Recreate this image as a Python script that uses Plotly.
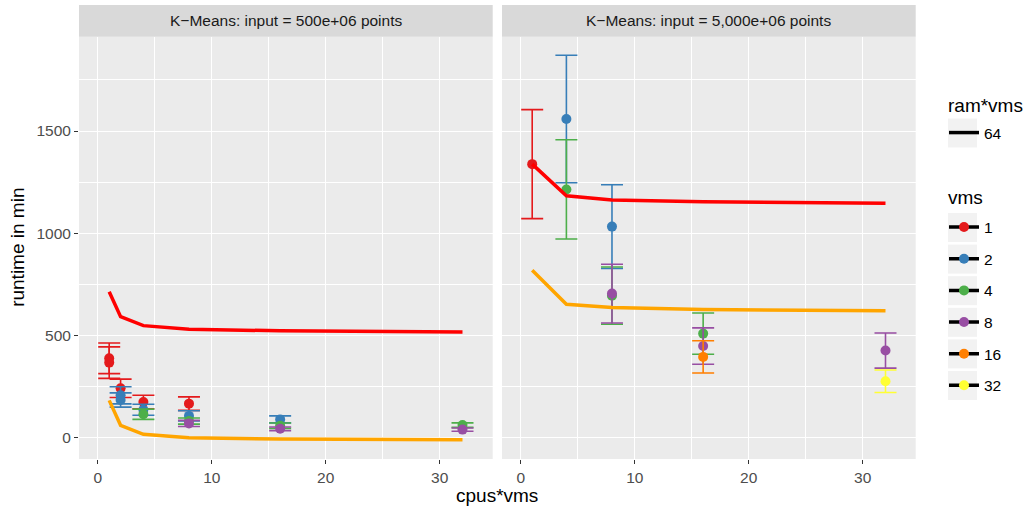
import plotly.graph_objects as go

# ---------------- data ----------------
p1_model_x = [1, 2, 4, 8, 16, 32]
p2_model_x = [1, 4, 8, 16, 32]
panel_titles = ["K\u2212Means: input = 500e+06 points", "K\u2212Means: input = 5,000e+06 points"]
vms_levels = ["1", "2", "4", "8", "16", "32"]
vms_colors = ["#E41A1C", "#377EB8", "#4DAF4A", "#984EA3", "#FF7F00", "#FFFF33"]
ram_vms_levels = ["64"]

# model curves (red / orange) per panel
p1_model_red = [713, 591, 547, 529, 522, 516]
p1_model_orange = [181, 59, 15, -2, -8, -12]
p2_model_red = [1338, 1183, 1162, 1154, 1147]
p2_model_orange = [818, 652, 636, 626, 620]

# measured runtimes (mean, sd) per vms, panel 1 (500e+06 points)
p1_vms1_x = [1, 1, 2, 4, 8]
p1_vms1_y = [387, 366, 240, 173, 165]
p1_vms1_err = [75, 77, 45, 33, 33]
p1_vms2_x = [2, 2, 4, 8, 16]
p1_vms2_y = [206, 183, 135, 105, 88]
p1_vms2_err = [42, 35, 27, 25, 17]
p1_vms4_x = [4, 8, 16, 32]
p1_vms4_y = [113, 80, 57, 60]
p1_vms4_err = [25, 15, 13, 11]
p1_vms8_x = [8, 16, 32]
p1_vms8_y = [68, 42, 38]
p1_vms8_err = [15, 9, 8]

# panel 2 (5,000e+06 points)
p2_vms1_x = [1]
p2_vms1_y = [1338]
p2_vms1_err = [267]
p2_vms2_x = [4, 8]
p2_vms2_y = [1559, 1032]
p2_vms2_err = [312, 205]
p2_vms4_x = [4, 8, 16]
p2_vms4_y = [1214, 694, 508]
p2_vms4_err = [243, 140, 101]
p2_vms8_x = [8, 16, 32]
p2_vms8_y = [704, 447, 425]
p2_vms8_err = [144, 89, 86]
p2_vms16_x = [16]
p2_vms16_y = [394]
p2_vms16_err = [79]
p2_vms32_x = [32]
p2_vms32_y = [275]
p2_vms32_err = [55]

x_ticks = [0, 10, 20, 30]
y_ticks = [0, 500, 1000, 1500]

# ---------------- assemble ----------------
panel1 = {
    "1": (p1_vms1_x, p1_vms1_y, p1_vms1_err),
    "2": (p1_vms2_x, p1_vms2_y, p1_vms2_err),
    "4": (p1_vms4_x, p1_vms4_y, p1_vms4_err),
    "8": (p1_vms8_x, p1_vms8_y, p1_vms8_err),
}
panel2 = {
    "1": (p2_vms1_x, p2_vms1_y, p2_vms1_err),
    "2": (p2_vms2_x, p2_vms2_y, p2_vms2_err),
    "4": (p2_vms4_x, p2_vms4_y, p2_vms4_err),
    "8": (p2_vms8_x, p2_vms8_y, p2_vms8_err),
    "16": (p2_vms16_x, p2_vms16_y, p2_vms16_err),
    "32": (p2_vms32_x, p2_vms32_y, p2_vms32_err),
}
color_of = dict(zip(vms_levels, vms_colors))

FONT = "Liberation Sans, Arial, Helvetica, sans-serif"
TICK_SIZE = 15.5
TITLE_SIZE = 19
W, H = 1032, 513

fig = go.Figure()

for panel, xa, ya in [(panel1, "x", "y"), (panel2, "x2", "y2")]:
    for lvl in vms_levels:
        if lvl not in panel:
            continue
        xs, ys, es = panel[lvl]
        c = color_of[lvl]
        fig.add_trace(go.Scatter(
            x=xs, y=ys, mode="markers", xaxis=xa, yaxis=ya, showlegend=False,
            marker=dict(color=c, size=10, line=dict(width=0)),
            error_y=dict(type="data", array=es, visible=True, color=c, thickness=1.6, width=11),
            hoverinfo="x+y",
        ))

for mx, red, orange, xa, ya in [(p1_model_x, p1_model_red, p1_model_orange, "x", "y"),
                                (p2_model_x, p2_model_red, p2_model_orange, "x2", "y2")]:
    fig.add_trace(go.Scatter(x=mx, y=red, mode="lines", xaxis=xa, yaxis=ya,
                             line=dict(color="#FF0000", width=3.5), showlegend=False))
    fig.add_trace(go.Scatter(x=mx, y=orange, mode="lines", xaxis=xa, yaxis=ya,
                             line=dict(color="#FFA500", width=3.5), showlegend=False))

# legend entries
for lvl in ram_vms_levels:
    fig.add_trace(go.Scatter(x=[None], y=[None], mode="lines", name=lvl,
                             line=dict(color="black", width=3.5), legend="legend"))
for lvl in vms_levels:
    fig.add_trace(go.Scatter(x=[None], y=[None], mode="lines+markers", name=lvl,
                             legendgroup="v" + lvl,
                             line=dict(color="black", width=3.5),
                             marker=dict(color=color_of[lvl], size=10),
                             legend="legend2"))

# ---------------- layout ----------------
L_DOM = [79 / W, 492.7 / W]
R_DOM = [502 / W, 915.7 / W]
Y_DOM = [1 - 459 / H, 1 - 36.7 / H]

axis_common = dict(
    ticks="outside", ticklen=4, tickwidth=1.1, tickcolor="#333333",
    showgrid=True, gridcolor="white", gridwidth=1.2, zeroline=False, showline=False,
    tickfont=dict(size=TICK_SIZE, color="#4D4D4D", family=FONT),
)
xaxis_common = dict(axis_common, range=[-1.65, 34.65], tickvals=x_ticks,
                    minor=dict(tickvals=[5, 15, 25], showgrid=True, gridcolor="white", gridwidth=0.6, ticks=""))
yaxis_common = dict(axis_common, range=[-106, 1962], tickvals=y_ticks,
                    minor=dict(tickvals=[250, 750, 1250, 1750], showgrid=True, gridcolor="white",
                               gridwidth=0.6, ticks=""))

LEG_X = 944 / W
ITEM_GAP = 8.5
fig.update_layout(
    width=W, height=H,
    margin=dict(l=0, r=0, t=0, b=0),
    paper_bgcolor="white", plot_bgcolor="#EBEBEB",
    font=dict(family=FONT, color="black"),
    xaxis=dict(xaxis_common, domain=L_DOM, anchor="y"),
    xaxis2=dict(xaxis_common, domain=R_DOM, anchor="y2"),
    yaxis=dict(yaxis_common, domain=Y_DOM, anchor="x"),
    yaxis2=dict(yaxis_common, domain=Y_DOM, anchor="x2", matches="y", showticklabels=False, ticks=""),
    legend=dict(x=LEG_X, y=1 - 116 / H, xanchor="left", yanchor="top",
                bgcolor="rgba(0,0,0,0)", font=dict(size=TICK_SIZE, family=FONT),
                itemwidth=30, tracegroupgap=ITEM_GAP),
    legend2=dict(x=LEG_X, y=1 - 210.5 / H, xanchor="left", yanchor="top",
                 bgcolor="rgba(0,0,0,0)", font=dict(size=TICK_SIZE, family=FONT),
                 itemwidth=30, tracegroupgap=ITEM_GAP),
    showlegend=True,
)

# facet strips
strip_y0 = 1 - 36.7 / H
strip_y1 = 1 - 5 / H
for dom, title in [(L_DOM, panel_titles[0]), (R_DOM, panel_titles[1])]:
    fig.add_shape(type="rect", xref="paper", yref="paper", x0=dom[0], x1=dom[1],
                  y0=strip_y0, y1=strip_y1, fillcolor="#D9D9D9", line=dict(width=0), layer="below")
    fig.add_annotation(xref="paper", yref="paper", x=(dom[0] + dom[1]) / 2, y=(strip_y0 + strip_y1) / 2,
                       text=title, showarrow=False, xanchor="center", yanchor="middle",
                       font=dict(size=TICK_SIZE, color="#1A1A1A", family=FONT))

# legend titles and key backgrounds
fig.add_annotation(xref="paper", yref="paper", x=946 / W, y=1 - 105 / H, text="ram*vms",
                   showarrow=False, xanchor="left", yanchor="middle",
                   font=dict(size=TITLE_SIZE, color="black", family=FONT))
fig.add_annotation(xref="paper", yref="paper", x=946 / W, y=1 - 197 / H, text="vms",
                   showarrow=False, xanchor="left", yanchor="middle",
                   font=dict(size=TITLE_SIZE, color="black", family=FONT))
key_centers = [133] + [227.5 + 31.6 * i for i in range(len(vms_levels))]
for cy in key_centers:
    fig.add_shape(type="rect", xref="paper", yref="paper", x0=948 / W, x1=977 / W,
                  y0=1 - (cy + 14.5) / H, y1=1 - (cy - 14.5) / H,
                  fillcolor="#F2F2F2", line=dict(width=0), layer="below")

# axis titles
fig.add_annotation(xref="paper", yref="paper", x=(L_DOM[0] + R_DOM[1]) / 2, y=1 - 495 / H,
                   text="cpus*vms", showarrow=False, xanchor="center", yanchor="middle",
                   font=dict(size=TITLE_SIZE, color="black", family=FONT))
fig.add_annotation(xref="paper", yref="paper", x=18 / W, y=(Y_DOM[0] + Y_DOM[1]) / 2,
                   text="runtime in min", showarrow=False, textangle=-90, xanchor="center",
                   yanchor="middle", font=dict(size=TITLE_SIZE, color="black", family=FONT))

fig.write_html("out.html")
